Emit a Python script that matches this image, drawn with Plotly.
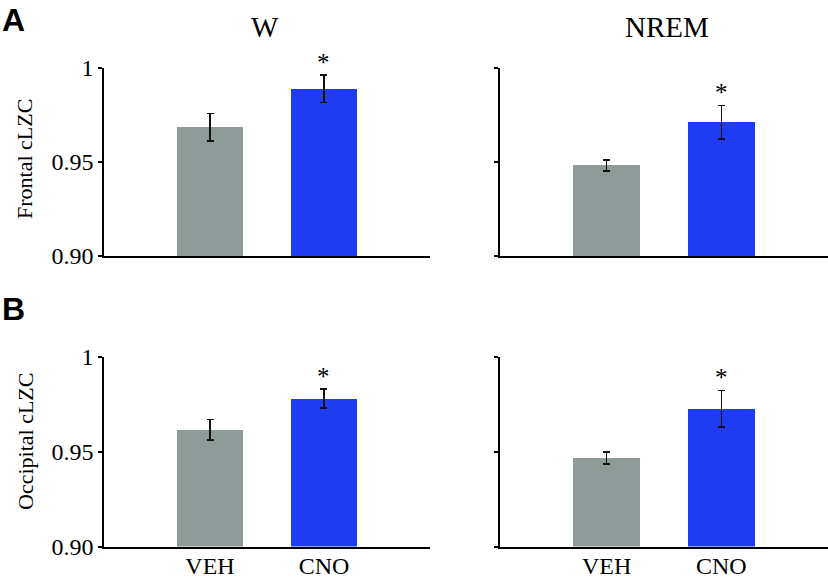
import plotly.graph_objects as go

# ---- data ----
states = ["W", "NREM"]
groups = ["VEH", "CNO"]
frontal_mean = {"W": [0.9685, 0.9890], "NREM": [0.9482, 0.9711]}
frontal_err = {"W": [0.0073, 0.0074], "NREM": [0.0030, 0.0090]}
occipital_mean = {"W": [0.9617, 0.9781], "NREM": [0.9467, 0.9728]}
occipital_err = {"W": [0.0054, 0.0050], "NREM": [0.0032, 0.0096]}
significant = {"W": [False, True], "NREM": [False, True]}
ytick_vals = [0.90, 0.95, 1.0]
ytick_text = ["0.90", "0.95", "1"]
row_labels = ["Frontal cLZC", "Occipital cLZC"]
panel_letters = ["A", "B"]

colors = ["#8e9a97", "#1f3cf2"]
SERIF = "Liberation Serif, Times New Roman, serif"
SANS = "Liberation Sans, Arial, sans-serif"
W, H = 828, 582

fig = go.Figure()

xdom = {"W": [104 / W, 430 / W], "NREM": [500 / W, 828 / W]}
ydom = [[1 - 256 / H, 1 - 68 / H], [1 - 546.5 / H, 1 - 357 / H]]

rows = [(frontal_mean, frontal_err), (occipital_mean, occipital_err)]
idx = 0
layout_axes = {}
annotations = []
for r, (means, errs) in enumerate(rows):
    for c, st in enumerate(states):
        idx += 1
        xa = "x" if idx == 1 else f"x{idx}"
        ya = "y" if idx == 1 else f"y{idx}"
        fig.add_trace(go.Bar(
            x=[0, 1], y=means[st],
            marker=dict(color=colors, line=dict(width=0)),
            width=0.58,
            error_y=dict(type="data", array=errs[st], visible=True,
                         color="#111111", thickness=1.6, width=3.5),
            xaxis=xa, yaxis=ya, showlegend=False, hoverinfo="skip",
        ))
        xkey = "xaxis" if idx == 1 else f"xaxis{idx}"
        ykey = "yaxis" if idx == 1 else f"yaxis{idx}"
        layout_axes[xkey] = dict(
            domain=xdom[st], anchor=ya, range=[-0.93, 1.93],
            tickvals=[0, 1], ticktext=groups, showticklabels=(r == 1),
            ticks="", showline=True, linecolor="black", linewidth=1.5,
            showgrid=False, zeroline=False, automargin=False,
            ticklabelstandoff=-3,
            tickfont=dict(family=SERIF, size=24, color="black"),
        )
        layout_axes[ykey] = dict(
            domain=ydom[r], anchor=xa, range=[0.90, 1.0],
            tickvals=ytick_vals, ticktext=ytick_text,
            showticklabels=(c == 0),
            ticks="outside", ticklen=4, tickwidth=1.5, tickcolor="black",
            showline=True, linecolor="black", linewidth=1.5,
            showgrid=False, zeroline=False, automargin=False,
            tickfont=dict(family=SERIF, size=24, color="black"),
        )
        for i, sig in enumerate(significant[st]):
            if sig:
                annotations.append(dict(
                    x=i, y=means[st][i] + errs[st][i], xref=xa, yref=ya,
                    text="*", showarrow=False, xanchor="center", yanchor="bottom",
                    yshift=-3, font=dict(family=SERIF, size=25, color="black"),
                ))

# column titles
for txt, xc in [(states[0], 265), (states[1], 667)]:
    annotations.append(dict(x=xc / W, y=1 - 27 / H, xref="paper", yref="paper",
                            text=txt, showarrow=False, xanchor="center", yanchor="middle",
                            font=dict(family=SERIF, size=29, color="black")))
# row titles
for txt, yc in [(row_labels[0], 159), (row_labels[1], 442)]:
    annotations.append(dict(x=25 / W, y=1 - yc / H, xref="paper", yref="paper",
                            text=txt, showarrow=False, textangle=-90,
                            xanchor="center", yanchor="middle",
                            font=dict(family=SERIF, size=22, color="black")))
# panel letters
for txt, yc in [(panel_letters[0], 20), (panel_letters[1], 309)]:
    annotations.append(dict(x=14 / W, y=1 - yc / H, xref="paper", yref="paper",
                            text="<b>" + txt + "</b>", showarrow=False,
                            xanchor="center", yanchor="middle",
                            font=dict(family=SANS, size=32, color="black")))

fig.update_layout(
    width=W, height=H, margin=dict(l=0, r=0, t=0, b=0, autoexpand=False),
    paper_bgcolor="white", plot_bgcolor="white",
    annotations=annotations, bargap=0, showlegend=False,
    **layout_axes,
)

fig.write_html(
    "out.html",
    config={"displayModeBar": False},
    post_script="document.body.style.margin='0';document.body.style.overflow='hidden';",
)
